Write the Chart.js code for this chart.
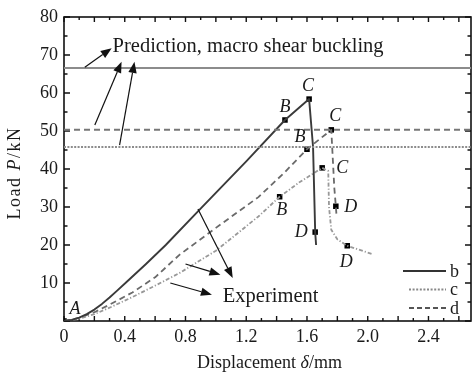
<!DOCTYPE html>
<html><head><meta charset="utf-8">
<script src="https://cdn.jsdelivr.net/npm/chart.js@4/dist/chart.umd.min.js"></script>
<style>html,body{margin:0;padding:0;background:#fff}canvas{display:block}</style>
</head><body>
<canvas id="c" width="475" height="373"></canvas>
<script>
// ---- data (displacement mm, load kN) ----
const xTicks = [0, 0.4, 0.8, 1.2, 1.6, 2.0, 2.4];
const yTicks = [10, 20, 30, 40, 50, 60, 70, 80];
const bX = [0, 0.05, 0.1, 0.15, 0.2, 0.25, 0.3, 0.35, 0.41, 0.54, 0.67, 0.89, 1.2, 1.455, 1.614, 1.64, 1.654, 1.66];
const bY = [0, 0.3, 0.9, 1.8, 3.0, 4.5, 6.2, 8.0, 10.2, 15, 20, 29.2, 42, 52.9, 58.4, 45.8, 23.4, 20];
const cX = [0, 0.1, 0.2, 0.3, 0.45, 0.6, 0.76, 1.0, 1.28, 1.42, 1.55, 1.70, 1.74, 1.745, 1.76, 1.8, 1.865, 2.03];
const cY = [0, 0.6, 1.8, 3.5, 6.3, 9.3, 12.6, 18.5, 27.5, 32.7, 36.5, 40.3, 39.5, 30, 24, 21.5, 19.8, 17.6];
const dX = [0, 0.1, 0.2, 0.3, 0.45, 0.6, 0.76, 1.0, 1.28, 1.45, 1.60, 1.76, 1.78, 1.79, 1.795];
const dY = [0, 0.8, 2.3, 4.3, 7.5, 11.5, 17.4, 24.5, 32.6, 39, 45.2, 50.3, 35, 30.2, 27.5];
const predB = 66.6, predC = 45.8, predD = 50.3;
const markB = [[0,0],[1.455,52.9],[1.614,58.4],[1.654,23.4]];
const markC = [[1.42,32.7],[1.70,40.3],[1.865,19.8]];
const markD = [[1.60,45.2],[1.76,50.3],[1.79,30.2]];
const xMax = 2.68, yMax = 80;

const pts = (xs, ys) => xs.map((x, i) => ({x, y: ys[i]}));
const hline = v => [{x: 0, y: v}, {x: xMax, y: v}];
const mk = m => m.map(p => ({x: p[0], y: p[1]}));

const SERIF = '"Liberation Serif", "DejaVu Serif", serif';

const decor = {
  id: 'decor',
  beforeDatasetsDraw(chart) {
    const {ctx, chartArea: a, scales: {x, y}} = chart;
    ctx.save();
    ctx.strokeStyle = '#111'; ctx.lineWidth = 1.6;
    ctx.strokeRect(a.left, a.top, a.right - a.left, a.bottom - a.top);
    ctx.lineWidth = 1.4;
    ctx.beginPath();
    for (let i = 0; i <= 26; i++) {
      const px = x.getPixelForValue(i / 10);
      const len = (i % 2 === 0) ? 5 : 3;
      ctx.moveTo(px, a.bottom); ctx.lineTo(px, a.bottom - len);
      ctx.moveTo(px, a.top); ctx.lineTo(px, a.top + len);
    }
    for (let j = 0; j <= 16; j++) {
      const py = y.getPixelForValue(j * 5);
      const len = (j % 2 === 0) ? 6 : 3.5;
      ctx.moveTo(a.left, py); ctx.lineTo(a.left + len, py);
      ctx.moveTo(a.right, py); ctx.lineTo(a.right - len, py);
    }
    ctx.stroke();
    ctx.restore();
  },
  afterDatasetsDraw(chart) {
    const {ctx, chartArea: a, scales: {x, y}} = chart;
    const X = v => x.getPixelForValue(v), Y = v => y.getPixelForValue(v);
    ctx.save();
    // arrows (in data units)
    const arrows = [
      [0.137, 66.8, 0.314, 71.8],
      [0.203, 51.6, 0.379, 68.2],
      [0.366, 46.3, 0.464, 68.2],
      [0.882, 29.5, 1.111, 11.3],
      [0.80, 15.0, 1.03, 12.2],
      [0.70, 10.0, 0.974, 6.9]
    ];
    ctx.strokeStyle = '#111'; ctx.fillStyle = '#111'; ctx.lineWidth = 1.2;
    arrows.forEach(([x0, y0, x1, y1]) => {
      const p0 = [X(x0), Y(y0)], p1 = [X(x1), Y(y1)];
      const ang = Math.atan2(p1[1] - p0[1], p1[0] - p0[0]);
      const L = 11, W = 4.2;
      const bx = p1[0] - L * Math.cos(ang), by = p1[1] - L * Math.sin(ang);
      ctx.beginPath(); ctx.moveTo(p0[0], p0[1]); ctx.lineTo(bx, by); ctx.stroke();
      ctx.beginPath();
      ctx.moveTo(p1[0], p1[1]);
      ctx.lineTo(bx + W * Math.sin(ang), by - W * Math.cos(ang));
      ctx.lineTo(bx - W * Math.sin(ang), by + W * Math.cos(ang));
      ctx.closePath(); ctx.fill();
    });
    // texts
    ctx.fillStyle = '#1a1a1a';
    ctx.textBaseline = 'middle'; ctx.textAlign = 'left';
    ctx.font = '20.5px ' + SERIF;
    ctx.fillText('Prediction, macro shear buckling', X(0.32), Y(72.2));
    ctx.fillText('Experiment', X(1.046), Y(6.3));
    // point letters
    ctx.font = 'italic 18px ' + SERIF; ctx.textAlign = 'center';
    const letters = [
      ['A', markB[0], 11, -12], ['B', markB[1], 0, -13], ['C', markB[2], -1, -13], ['D', markB[3], -14, 0],
      ['B', markC[0], 2, 14], ['C', markC[1], 20, 0], ['D', markC[2], -1, 17],
      ['B', markD[0], -7, -12], ['C', markD[1], 4, -14], ['D', markD[2], 15, 1]
    ];
    letters.forEach(([t, p, dx, dy]) => ctx.fillText(t, X(p[0]) + dx, Y(p[1]) + dy));
    // legend
    const leg = [['b', [], '#333', 1.8], ['c', [2, 1.6], '#888', 2], ['d', [5, 3], '#555', 1.8]];
    leg.forEach(([t, dash, col, w], i) => {
      const ly = 271 + i * 18.5;
      ctx.strokeStyle = col; ctx.lineWidth = w; ctx.setLineDash(dash);
      ctx.beginPath(); ctx.moveTo(i === 0 ? 403 : 409, ly); ctx.lineTo(446, ly); ctx.stroke();
      ctx.setLineDash([]);
      ctx.font = '18px ' + SERIF; ctx.textAlign = 'left'; ctx.fillStyle = '#1a1a1a';
      ctx.fillText(t, 450, ly + 1);
    });
    // axis titles
    ctx.textAlign = 'left';
    const parts = [['Displacement ', ''], ['δ', 'italic '], ['/mm', '']];
    let tw = 0;
    parts.forEach(([s, st]) => { ctx.font = st + '18px ' + SERIF; tw += ctx.measureText(s).width; });
    let cx = (a.left + a.right) / 2 - tw / 2 + 2;
    parts.forEach(([s, st]) => { ctx.font = st + '18px ' + SERIF; ctx.fillText(s, cx, 363); cx += ctx.measureText(s).width; });
    ctx.save();
    ctx.translate(15, (a.top + a.bottom) / 2 + 4); ctx.rotate(-Math.PI / 2);
    try { ctx.letterSpacing = '1.5px'; } catch (e) {}
    const yp = [['Load ', ''], ['P', 'italic '], ['/kN', '']];
    tw = 0;
    yp.forEach(([s, st]) => { ctx.font = st + '18px ' + SERIF; tw += ctx.measureText(s).width; });
    cx = -tw / 2;
    yp.forEach(([s, st]) => { ctx.font = st + '18px ' + SERIF; ctx.fillText(s, cx, 0); cx += ctx.measureText(s).width; });
    ctx.restore();
    ctx.restore();
  }
};

const lineDs = (label, data, color, dash, width) => ({
  label, data, borderColor: color, borderDash: dash, borderWidth: width,
  pointRadius: 0, showLine: true, fill: false, tension: 0, borderJoinStyle: 'round'
});
const markDs = (label, data) => ({
  label, data, showLine: false, pointStyle: 'rect', pointRadius: 3.9,
  backgroundColor: '#000', borderColor: '#000', borderWidth: 0
});

new Chart(document.getElementById('c'), {
  type: 'scatter',
  data: {
    datasets: [
      lineDs('Prediction b', hline(predB), '#8c8c8c', [], 2),
      lineDs('Prediction d', hline(predD), '#777', [6, 4], 2),
      lineDs('Prediction c', hline(predC), '#8c8c8c', [2, 1.4], 2),
      lineDs('b', pts(bX, bY), '#3a3a3a', [], 1.9),
      lineDs('c', pts(cX, cY), '#999', [4, 2, 1.2, 2], 1.8),
      lineDs('d', pts(dX, dY), '#6a6a6a', [6, 4], 1.8),
      markDs('b points', mk(markB)),
      markDs('c points', mk(markC)),
      markDs('d points', mk(markD))
    ]
  },
  options: {
    responsive: false, animation: false, devicePixelRatio: 1,
    layout: {padding: {top: 17, right: 1, left: 0, bottom: 0}},
    plugins: {legend: {display: false}, tooltip: {enabled: false}},
    scales: {
      x: {
        type: 'linear', min: 0, max: xMax,
        afterBuildTicks: s => { s.ticks = xTicks.map(v => ({value: v})); },
        afterFit: s => { s.height = 52; },
        grid: {display: false, drawTicks: false}, border: {display: false},
        ticks: {padding: 5, color: '#1a1a1a', font: {family: SERIF, size: 18},
          callback: v => (v === 0 ? '0' : Number(v).toFixed(1))}
      },
      y: {
        type: 'linear', min: 0, max: yMax,
        afterBuildTicks: s => { s.ticks = yTicks.map(v => ({value: v})); },
        afterFit: s => { s.width = 64; },
        grid: {display: false, drawTicks: false}, border: {display: false},
        ticks: {padding: 6, color: '#1a1a1a', font: {family: SERIF, size: 18}}
      }
    }
  },
  plugins: [decor]
});
</script>
</body></html>
